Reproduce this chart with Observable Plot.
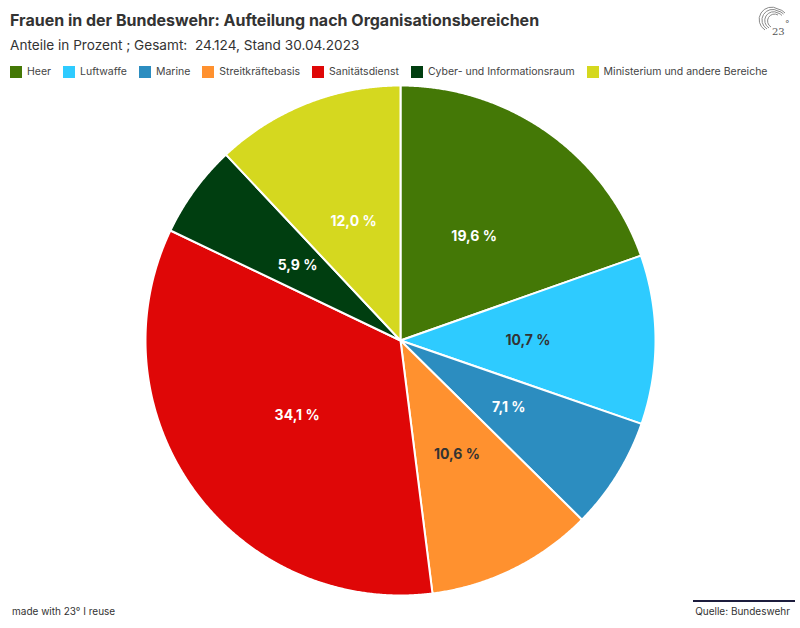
<!DOCTYPE html>
<html>
<head>
<meta charset="utf-8">
<script src="https://cdn.jsdelivr.net/npm/d3@7"></script>
<script src="https://cdn.jsdelivr.net/npm/@observablehq/plot@0.6"></script>
<style>
  body { margin: 0; background: #fff; font-family: Inter, "Noto Sans", sans-serif; color: #333; }
  #wrap { position: relative; width: 800px; height: 628px; overflow: hidden; }
  #title { position: absolute; left: 10px; top: 10px; font-size: 16px; font-weight: 700; color: #333; }
  #subtitle { position: absolute; left: 10px; top: 37px; font-size: 13.6px; color: #333; }
  #legend { position: absolute; left: 10px; top: 65px; font-size: 10.5px; color: #444; display: flex; white-space: nowrap; }
  #legend .it { display: flex; align-items: center; margin-right: 12px; }
  #legend .sw { width: 12px; height: 12px; margin-right: 5px; }
  #chart { position: absolute; left: 0; top: 84px; }
  #made { position: absolute; left: 12px; top: 605px; font-size: 10px; color: #333; }
  #src { position: absolute; right: 10px; top: 605px; font-size: 10px; color: #333; }
  #srcline { position: absolute; left: 693px; width: 102px; top: 600px; height: 1.5px; background: #1c1c3c; }
  #logo { position: absolute; left: 758px; top: 6px; }
</style>
</head>
<body>
<div id="wrap">
  <div id="title">Frauen in der Bundeswehr: Aufteilung nach Organisationsbereichen</div>
  <div id="subtitle">Anteile in Prozent ; Gesamt:&nbsp; 24.124, Stand 30.04.2023</div>
  <div id="legend"></div>
  <div id="chart"></div>
  <div id="made">made with 23° I reuse</div>
  <div id="srcline"></div>
  <div id="src">Quelle: Bundeswehr</div>
  <svg id="logo" width="36" height="32" viewBox="0 0 36 32">
    <g fill="none" stroke="#8a8a8a" stroke-width="1">
      <path d="M20 3 A12 12 0 0 0 7 24"/>
      <path d="M20 5 A10 10 0 0 0 9 23"/>
      <path d="M20 7 A8 8 0 0 0 11 22"/>
      <path d="M20 9 A6 6 0 0 0 13 21"/>
      <path d="M20 3 A12 12 0 0 1 27 7"/>
      <path d="M20 5 A10 10 0 0 1 25.5 8"/>
      <path d="M20 7 A8 8 0 0 1 24 9.5"/>
    </g>
    <text x="14" y="29" font-size="10" font-family="DejaVu Serif, serif" fill="#555">23</text>
    <text x="27" y="21" font-size="9" font-family="DejaVu Sans, sans-serif" fill="#555">°</text>
  </svg>
</div>
<script>
const categories = ["Heer", "Luftwaffe", "Marine", "Streitkräftebasis", "Sanitätsdienst", "Cyber- und Informationsraum", "Ministerium und andere Bereiche"];
const values = [19.6, 10.7, 7.1, 10.6, 34.1, 5.9, 12.0];
const colors = ["#447806", "#2ecbff", "#2c8dc0", "#ff912f", "#df0707", "#003e10", "#d5d81f"];
const labelColors = ["#fff", "#333", "#fff", "#333", "#fff", "#fff", "#fff"];

// legend
const legend = document.getElementById("legend");
categories.forEach((c, i) => {
  const it = document.createElement("div");
  it.className = "it";
  it.innerHTML = `<span class="sw" style="background:${colors[i]}"></span><span>${c}</span>`;
  legend.appendChild(it);
});

const data = categories.map((name, i) => ({name, value: values[i], labelColor: labelColors[i]}));
const arcs = d3.pie().sort(null).value(d => d.value).startAngle(0).endAngle(2 * Math.PI)(data);

const points = [];
const labels = [];
arcs.forEach(a => {
  const n = Math.max(2, Math.ceil((a.endAngle - a.startAngle) / 0.005));
  points.push({name: a.data.name, x: 0, y: 0});
  for (let k = 0; k <= n; k++) {
    const t = a.startAngle + (a.endAngle - a.startAngle) * k / n;
    points.push({name: a.data.name, x: Math.sin(t), y: Math.cos(t)});
  }
  const m = (a.startAngle + a.endAngle) / 2;
  labels.push({
    name: a.data.name,
    x: 0.5 * Math.sin(m),
    y: 0.5 * Math.cos(m),
    text: a.data.value.toFixed(1).replace(".", ",") + " %",
    color: a.data.labelColor
  });
});

const plot = Plot.plot({
  width: 800,
  height: 512,
  margin: 0,
  x: {domain: [-1, 1], range: [145, 655], axis: null},
  y: {domain: [-1, 1], range: [511, 1], axis: null},
  color: {domain: categories, range: colors},
  style: {fontFamily: "Inter, 'Noto Sans', sans-serif", background: "transparent"},
  marks: [
    Plot.line(points, {x: "x", y: "y", z: "name", fill: "name", stroke: "white", strokeWidth: 2, curve: "linear-closed", strokeLinejoin: "round"}),
    Plot.text(labels, {x: "x", y: "y", text: "text", fill: d => d.color, fontSize: 14, fontWeight: 700})
  ]
});
document.getElementById("chart").appendChild(plot);
</script>
</body>
</html>
